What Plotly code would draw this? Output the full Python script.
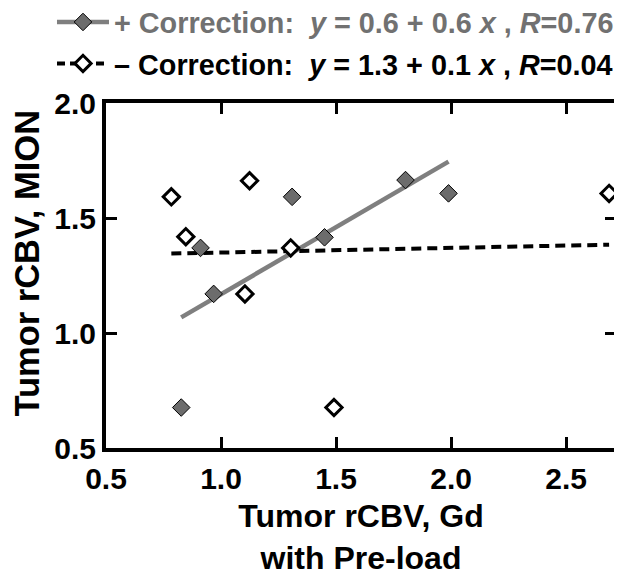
import numpy as np
import plotly.graph_objects as go

# + Correction (filled diamonds)
x_plus = [0.827, 0.911, 0.968, 1.309, 1.450, 1.802, 1.989]
y_plus = [0.676, 1.370, 1.170, 1.592, 1.416, 1.665, 1.607]
# - Correction (open diamonds)
x_minus = [0.784, 0.847, 1.124, 1.104, 1.303, 1.491, 2.687]
y_minus = [1.592, 1.419, 1.662, 1.170, 1.370, 0.676, 1.607]

x_ticks = [0.5, 1.0, 1.5, 2.0, 2.5]
y_ticks = [0.5, 1.0, 1.5, 2.0]

name_plus = ("<span style='color:#717171'>+ Correction:\u00a0\u00a0<i>y</i> = 0.6 + 0.6 <i>x</i> , "
             "<i>R</i>=0.76</span>")
name_minus = "\u2013 Correction:\u00a0\u00a0<i>y</i> = 1.3 + 0.1 <i>x</i> , <i>R</i>=0.04"

GRAY_LINE = "#7f7f7f"
GRAY_FILL = "#6c6c6c"

def fit(xs, ys):
    b, a = np.polyfit(xs, ys, 1)
    xl = np.array([min(xs), max(xs)])
    return xl, a + b * xl

fig = go.Figure()

xl, yl = fit(x_plus, y_plus)
fig.add_trace(go.Scatter(x=xl, y=yl, mode="lines", showlegend=False,
                         line=dict(color=GRAY_LINE, width=4.5)))
xl2, yl2 = fit(x_minus, y_minus)
fig.add_trace(go.Scatter(x=xl2, y=yl2, mode="lines", showlegend=False,
                         line=dict(color="black", width=4, dash="10px,6px")))

fig.add_trace(go.Scatter(x=x_plus, y=y_plus, mode="markers", showlegend=False,
                         marker=dict(symbol="diamond", size=13.5, color=GRAY_FILL,
                                     line=dict(color="black", width=1))))
fig.add_trace(go.Scatter(x=x_minus, y=y_minus, mode="markers", showlegend=False,
                         marker=dict(symbol="diamond", size=12.5, color="white",
                                     line=dict(color="black", width=3))))

# legend entries
fig.add_trace(go.Scatter(x=[None], y=[None], mode="lines+markers", name=name_plus,
                         legendgroup="a",
                         line=dict(color=GRAY_LINE, width=4.5),
                         marker=dict(symbol="diamond", size=13.5, color=GRAY_FILL,
                                     line=dict(color="black", width=1))))
fig.add_trace(go.Scatter(x=[None], y=[None], mode="lines+markers", name=name_minus,
                         legendgroup="b",
                         line=dict(color="black", width=4, dash="8px,5px"),
                         marker=dict(symbol="diamond", size=12.5, color="white",
                                     line=dict(color="black", width=3))))

FONT = "Liberation Sans, Arial, sans-serif"

axis_common = dict(showline=True, linecolor="black", linewidth=4, mirror="ticks",
                   ticks="inside", ticklen=11, tickwidth=3, tickcolor="black",
                   showgrid=False, zeroline=False,
                   tickfont=dict(family=FONT, size=30, color="black", weight="bold"))

fig.update_xaxes(range=[0.5, 2.717], tickvals=x_ticks,
                 ticktext=[f"{v:.1f}" for v in x_ticks],
                 ticklabelstandoff=1,
                 title=dict(text="Tumor rCBV, Gd<br>with Pre-load", standoff=12,
                            font=dict(family=FONT, size=32, color="black", weight="bold")),
                 **axis_common)
fig.update_yaxes(range=[0.5, 2.0], tickvals=y_ticks,
                 ticktext=[f"{v:.1f}" for v in y_ticks],
                 ticklabelstandoff=0,
                 **axis_common)

# right frame edge of the plotting area
fig.add_shape(type="line", xref="paper", yref="paper", x0=1, x1=1, y0=-0.006, y1=1.006,
              line=dict(color="black", width=4), layer="above")

fig.add_annotation(text="Tumor rCBV, MION", textangle=-90, xref="paper", yref="paper",
                   x=-0.1539, y=0.536, xanchor="center", yanchor="middle", showarrow=False,
                   font=dict(family=FONT, size=34.5, color="black", weight="bold"))

fig.update_layout(
    width=614, height=568,
    margin=dict(l=98, r=6, t=95, b=128, autoexpand=False),
    plot_bgcolor="white", paper_bgcolor="white",
    showlegend=True,
    legend=dict(x=-0.1059, y=1.308, xanchor="left", yanchor="top",
                bgcolor="rgba(0,0,0,0)", traceorder="grouped", tracegroupgap=1,
                itemwidth=52,
                font=dict(family=FONT, size=28.8, color="black", weight="bold")),
)

fig.write_html("out.html")
